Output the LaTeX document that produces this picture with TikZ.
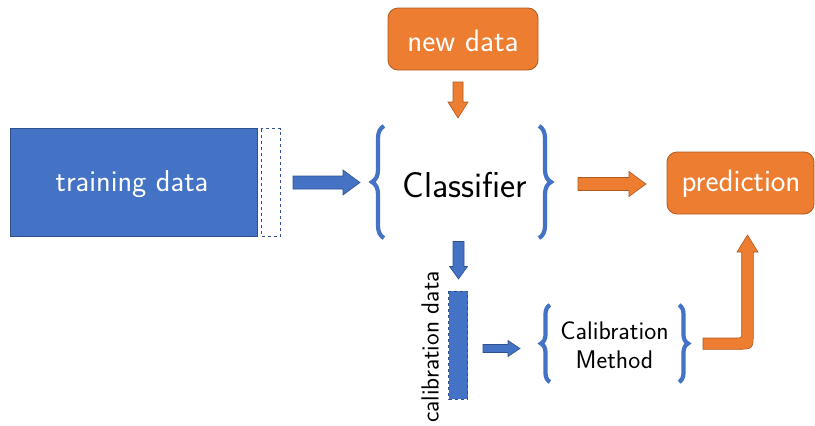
\documentclass[tikz,border=0pt]{standalone}
\usetikzlibrary{decorations.pathreplacing}
\definecolor{cblue}{HTML}{4472C4}
\definecolor{cblueD}{HTML}{2F528F}
\definecolor{corange}{HTML}{ED7D31}
\definecolor{corangeD}{HTML}{AE5A21}
\tikzset{
  bluebox/.style={draw=cblueD, fill=cblue, line width=0.8pt},
  orangebox/.style={draw=corangeD, fill=corange, line width=0.8pt, rounded corners=10pt},
  bluearrow/.style={draw=cblueD, fill=cblue, line width=0.6pt},
  orangearrow/.style={draw=corangeD, fill=corange, line width=0.6pt},
  bracestyle/.style={draw=cblue, line width=4.2pt, decorate, decoration={brace, amplitude=#1}},
  lbl/.style={text=white, inner sep=0pt}
}
% right block arrow: x1, x2, yc, shaft half, head half, head length
\newcommand\rblock[7]{\path[#7] (#1,{#3-#4}) -- ({#2-#6},{#3-#4}) -- ({#2-#6},{#3-#5}) -- (#2,#3) -- ({#2-#6},{#3+#5}) -- ({#2-#6},{#3+#4}) -- (#1,{#3+#4}) -- cycle;}
% down block arrow: y1, y2, xc, shaft half, head half, head length
\newcommand\dblock[7]{\path[#7] ({#3-#4},#1) -- ({#3-#4},{#2-#6}) -- ({#3-#5},{#2-#6}) -- (#3,#2) -- ({#3+#5},{#2-#6}) -- ({#3+#4},{#2-#6}) -- ({#3+#4},#1) -- cycle;}
\begin{document}
\begin{tikzpicture}[x=1pt,y=-1pt,font=\sffamily]
\useasboundingbox (0,0) rectangle (815,426);
% training data
\path[bluebox] (10,128) rectangle (257,236);
\node[lbl, font=\sffamily\fontsize{30.3}{34}\selectfont] (train) at (132,184) {training data};
\path[draw=cblueD, dashed, line width=0.8pt, fill=white] (261,128.5) rectangle (280.5,236);
% arrows around classifier
\rblock{293}{360}{182.5}{6.5}{12.5}{17}{bluearrow}
% new data
\path[orangebox] (388,8) rectangle (538,70);
\node[lbl, font=\sffamily\fontsize{31}{34}\selectfont] (new) at (463,41) {new data};
\dblock{82}{118}{458}{5}{10}{16}{orangearrow}
% classifier
\node[inner sep=0pt, font=\sffamily\fontsize{36}{40}\selectfont] (clf) at (465,185) {Classifier};
\draw[bracestyle=12pt] (384,238) -- (384,126);
\draw[bracestyle=12pt] (539,126) -- (539,238);
% arrow to prediction
\rblock{578}{646}{184}{6.5}{12.5}{17}{orangearrow}
\path[orangebox] (667,152) rectangle (814,214);
\node[lbl, font=\sffamily\fontsize{31}{34}\selectfont] (pred) at (741,184) {prediction};
% down to calibration data
\dblock{241.5}{279}{458.5}{5.5}{9}{12.5}{bluearrow}
\path[bluebox, dashed] (448.5,291) rectangle (467.5,399);
\node[inner sep=0pt, rotate=90, font=\sffamily\fontsize{24.8}{28}\selectfont] (cald) at (430,347) {calibration data};
\rblock{483}{520}{348.5}{4}{8}{12}{bluearrow}
% calibration method
\node[inner sep=0pt, align=center, font=\sffamily\fontsize{25.5}{29}\selectfont] (calm) at (614.5,345) {Calibration\\Method};
\draw[bracestyle=9pt] (550,382) -- (550,305);
\draw[bracestyle=9pt] (679,305) -- (679,382);
% bent arrow
\path[orangearrow] (703,338) -- (735.5,338) .. controls (741.7,338) .. (741.7,332)
  -- (741.7,252) -- (737,252) -- (747.5,235) -- (758,252) -- (753.3,252)
  -- (753.3,332) .. controls (753.3,349.3) .. (736,349.3) -- (703,349.3) -- cycle;
\end{tikzpicture}
\end{document}
